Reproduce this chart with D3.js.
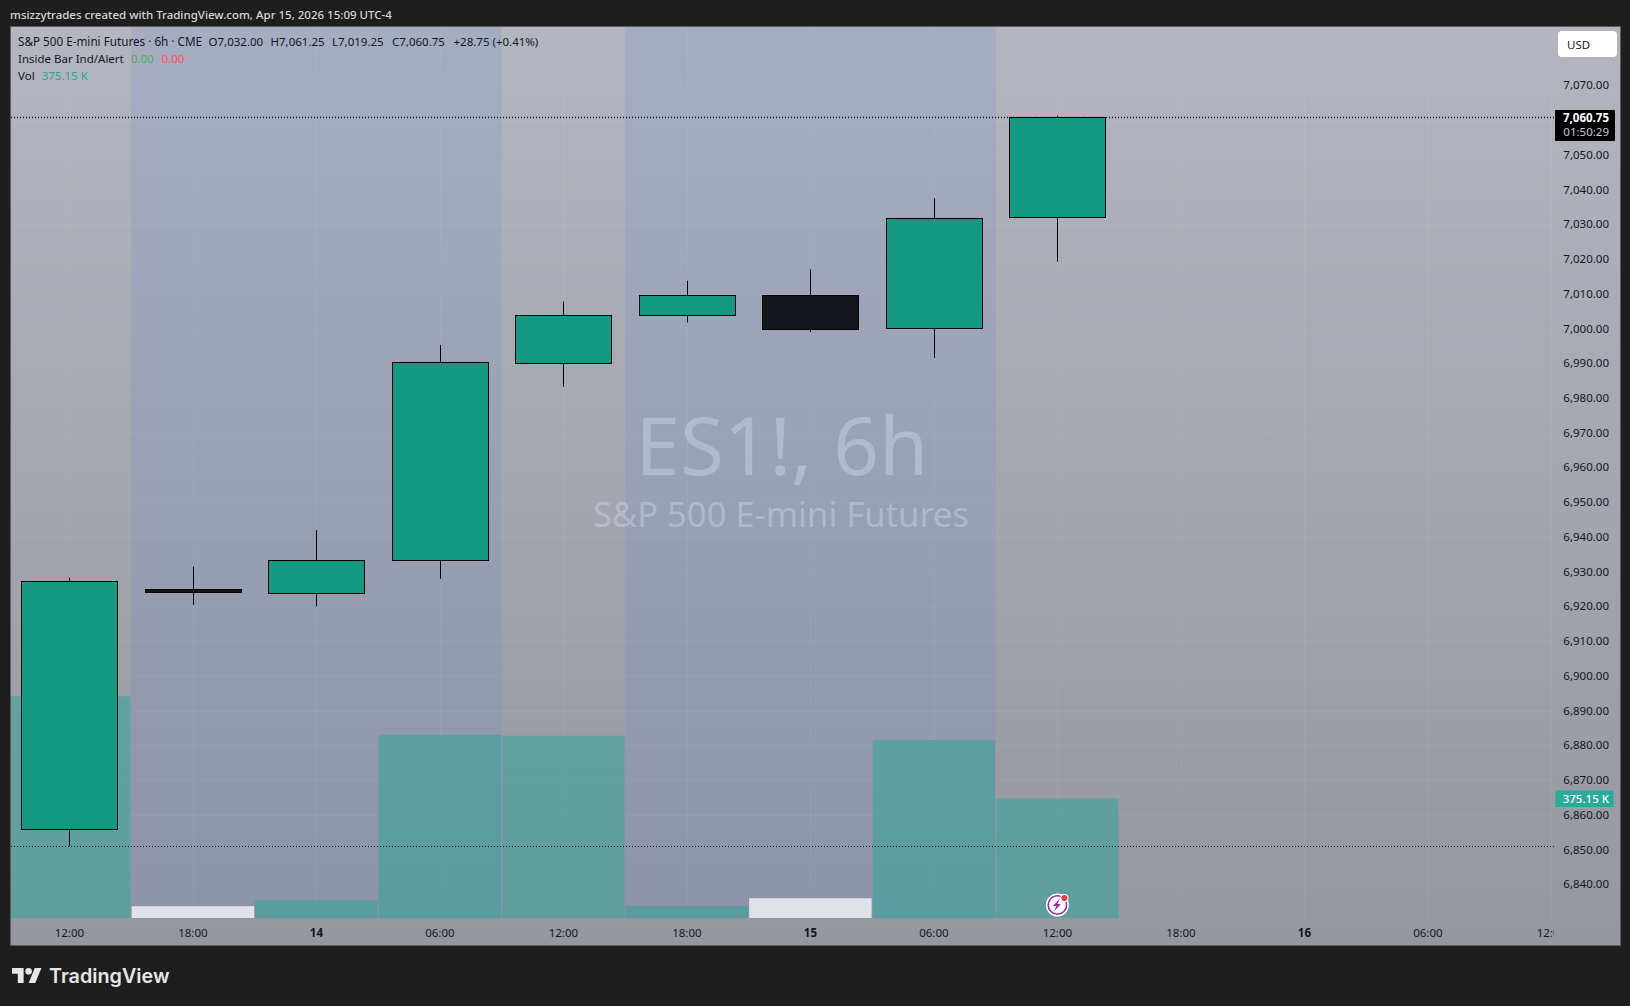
<!DOCTYPE html>
<html>
<head>
<meta charset="utf-8">
<script src="https://cdn.jsdelivr.net/npm/d3@7"></script>
<style>
html, body { margin: 0; padding: 0; background: #1e1e1e; overflow: hidden; }
text { font-family: "Noto Sans", sans-serif; }
</style>
</head>
<body>
<svg id="canvas"></svg>
<script>
let width = 1630;
let height = 1006;

// values
let timeLabels = ['12:00', '18:00', '14', '06:00', '12:00', '18:00', '15', '06:00', '12:00', '18:00', '16', '06:00', '12:00'];
let boldLabels = ['14', '15', '16'];
let opens = [6856, 6925, 6923.75, 6933.25, 6990.25, 7004, 7009.75, 7000, 7032];
let highs = [6928.25, 6931.5, 6942, 6995.25, 7007.75, 7013.75, 7017, 7037.5, 7061.25];
let lows = [6851, 6920.5, 6920, 6928, 6983.25, 7001.75, 6999, 6991.5, 7019.25];
let closes = [6927.25, 6924.25, 6933.25, 6990.25, 7004, 7009.75, 7000, 7031.75, 7060.75];
let volumes = [696, 37, 56, 575, 572, 37, 62, 559, 375.15];
let priceTicks = d3.range(6840, 7071, 10);
let lastPrice = 7060.75;
let levelLine = 6851;
let sessionBands = [[0.5, 3.5], [4.5, 7.5]];

let pane = { left: 11, top: 27, right: 1554, bottom: 918 };
let frameRight = 1620;
let frameBottom = 945;

let xScale = d3.scaleLinear().domain([0, 8]).range([69.4, 1057.4]);
let yScale = d3.scaleLinear().domain([6840, 7070]).range([884.4, 85.3]);
let volScale = d3.scaleLinear().domain([0, 375.15]).range([918, 798.5]);
let step = xScale(1) - xScale(0);

let svg = d3.select('#canvas')
    .attr('width', width)
    .attr('height', height)
    .style('display', 'block');

let defs = svg.append('defs');
let grad = defs.append('linearGradient')
    .attr('id', 'bg')
    .attr('gradientUnits', 'userSpaceOnUse')
    .attr('x1', 0).attr('x2', 0).attr('y1', 27).attr('y2', 945);
grad.append('stop').attr('offset', 0).attr('stop-color', '#b4b6bf');
grad.append('stop').attr('offset', 1).attr('stop-color', '#95979f');

defs.append('clipPath').attr('id', 'paneClip')
    .append('rect')
    .attr('x', pane.left).attr('y', pane.top)
    .attr('width', pane.right - pane.left)
    .attr('height', pane.bottom - pane.top);
defs.append('clipPath').attr('id', 'timeClip')
    .append('rect')
    .attr('x', pane.left).attr('y', pane.bottom)
    .attr('width', pane.right - pane.left)
    .attr('height', frameBottom - pane.bottom);

// frame and background
svg.append('rect')
    .attr('x', pane.left - 0.5).attr('y', pane.top - 0.5)
    .attr('width', frameRight - pane.left + 1).attr('height', frameBottom - pane.top + 1)
    .attr('fill', 'url(#bg)')
    .attr('stroke', '#5c5c5f')
    .attr('stroke-width', 1);

let plot = svg.append('g').attr('clip-path', 'url(#paneClip)');

// session bands
plot.selectAll('.band')
    .data(sessionBands)
    .enter()
    .append('rect')
    .attr('class', 'band')
    .attr('x', d => xScale(d[0]))
    .attr('width', d => xScale(d[1]) - xScale(d[0]))
    .attr('y', pane.top)
    .attr('height', pane.bottom - pane.top)
    .attr('fill', 'rgb(105, 135, 205)')
    .attr('fill-opacity', 0.18);

// grid
plot.selectAll('.hgrid')
    .data(priceTicks)
    .enter()
    .append('line')
    .attr('x1', pane.left).attr('x2', pane.right)
    .attr('y1', d => Math.round(yScale(d)) + 0.5)
    .attr('y2', d => Math.round(yScale(d)) + 0.5)
    .attr('stroke', '#ffffff')
    .attr('stroke-opacity', 0.05);

plot.selectAll('.vgrid')
    .data(timeLabels)
    .enter()
    .append('line')
    .attr('x1', (d, i) => Math.round(xScale(i)) + 0.5)
    .attr('x2', (d, i) => Math.round(xScale(i)) + 0.5)
    .attr('y1', pane.top).attr('y2', pane.bottom)
    .attr('stroke', '#ffffff')
    .attr('stroke-opacity', 0.05);

// volume
plot.selectAll('.vol')
    .data(volumes)
    .enter()
    .append('rect')
    .attr('class', 'vol')
    .attr('x', (d, i) => xScale(i) - step / 2 + 0.5)
    .attr('width', step - 1)
    .attr('y', d => volScale(d))
    .attr('height', d => volScale(0) - volScale(d))
    .attr('fill', (d, i) => closes[i] < opens[i] ? '#e1e2e8' : 'rgba(38, 166, 154, 0.5)');

// watermark
plot.append('text')
    .attr('x', 782).attr('y', 475)
    .attr('text-anchor', 'middle')
    .attr('font-size', 80)
    .attr('fill', '#d4dcec').attr('fill-opacity', 0.42)
    .text('ES1!, 6h');
plot.append('text')
    .attr('x', 781).attr('y', 527)
    .attr('text-anchor', 'middle')
    .attr('font-size', 34.6)
    .attr('fill', '#d4dcec').attr('fill-opacity', 0.42)
    .text('S&P 500 E-mini Futures');

// dotted levels
plot.selectAll('.level')
    .data([lastPrice, levelLine])
    .enter()
    .append('line')
    .attr('x1', pane.left).attr('x2', pane.right)
    .attr('y1', d => Math.round(yScale(d)) + 0.5)
    .attr('y2', d => Math.round(yScale(d)) + 0.5)
    .attr('stroke', '#131722')
    .attr('stroke-width', d => d === lastPrice ? 1.6 : 1)
    .attr('stroke-dasharray', '1 2');

// candles
let bodyWidth = 96;
plot.selectAll('.wick')
    .data(highs)
    .enter()
    .append('line')
    .attr('x1', (d, i) => Math.round(xScale(i)) + 0.5)
    .attr('x2', (d, i) => Math.round(xScale(i)) + 0.5)
    .attr('y1', d => yScale(d))
    .attr('y2', (d, i) => yScale(lows[i]))
    .attr('stroke', '#000');

plot.selectAll('.body')
    .data(opens)
    .enter()
    .append('rect')
    .attr('x', (d, i) => Math.round(xScale(i) - bodyWidth / 2) + 0.5)
    .attr('width', bodyWidth)
    .attr('y', (d, i) => Math.round(yScale(Math.max(d, closes[i]))) + 0.5)
    .attr('height', (d, i) => Math.max(2, Math.round(Math.abs(yScale(d) - yScale(closes[i])))))
    .attr('fill', (d, i) => closes[i] < d ? '#15171c' : '#149a82')
    .attr('stroke', '#000');

// bolt marker on the last bar
let marker = plot.append('g')
    .attr('transform', `translate(${xScale(8)}, 905)`);
marker.append('circle').attr('r', 11.5).attr('fill', '#fff');
marker.append('circle').attr('r', 9.2).attr('fill', 'none').attr('stroke', '#9c27b0').attr('stroke-width', 1.6);
marker.append('path').attr('d', 'M2.5-6.5-4.5 1h3.5l-2.5 5.5 7-7.5H0z').attr('fill', '#9c27b0');
marker.append('circle').attr('cx', 7).attr('cy', -7).attr('r', 4).attr('fill', '#fff');
marker.append('circle').attr('cx', 7).attr('cy', -7).attr('r', 3).attr('fill', '#f23645');

// time axis
svg.append('g')
    .attr('clip-path', 'url(#timeClip)')
    .selectAll('text')
    .data(timeLabels)
    .enter()
    .append('text')
    .attr('x', (d, i) => xScale(i))
    .attr('y', 936.5)
    .attr('text-anchor', 'middle')
    .attr('font-size', 11.5)
    .attr('font-weight', d => boldLabels.includes(d) ? 700 : 400)
    .attr('fill', '#131722')
    .text(d => d);

// price axis
let priceFormat = d3.format(',.2f');
svg.selectAll('.price')
    .data(priceTicks)
    .enter()
    .append('text')
    .attr('x', 1609)
    .attr('y', d => yScale(d) + 4)
    .attr('text-anchor', 'end')
    .attr('font-size', 11.5)
    .attr('fill', '#131722')
    .text(d => priceFormat(d));

// last price tag
svg.append('rect').attr('x', 1555).attr('y', 110).attr('width', 60).attr('height', 31).attr('rx', 1).attr('fill', '#000');
svg.append('text').attr('x', 1609).attr('y', 122).attr('text-anchor', 'end')
    .attr('font-size', 11.5).attr('font-weight', 700).attr('fill', '#fff').text(priceFormat(lastPrice));
svg.append('text').attr('x', 1609).attr('y', 136).attr('text-anchor', 'end')
    .attr('font-size', 11.5).attr('fill', '#c9cad0').text('01:50:29');

// volume tag
svg.append('rect').attr('x', 1555.5).attr('y', 790.5).attr('width', 58).attr('height', 16.5).attr('fill', '#26ab9c');
svg.append('text').attr('x', 1609).attr('y', 803).attr('text-anchor', 'end')
    .attr('font-size', 11.5).attr('font-weight', 500).attr('fill', '#fff').text('375.15 K');

// USD button
svg.append('rect').attr('x', 1558).attr('y', 31).attr('width', 59).attr('height', 26).attr('rx', 4).attr('fill', '#fff');
svg.append('text').attr('x', 1567).attr('y', 48.5).attr('font-size', 11.5).attr('fill', '#131722').text('USD');

// legend
let legend = [
    [18, 46, 'S&P 500 E-mini Futures · 6h · CME', '#131722'],
    [208.5, 46, 'O7,032.00', '#131722'],
    [270.5, 46, 'H7,061.25', '#131722'],
    [332, 46, 'L7,019.25', '#131722'],
    [392, 46, 'C7,060.75', '#131722'],
    [453.5, 46, '+28.75 (+0.41%)', '#131722'],
    [18, 63, 'Inside Bar Ind/Alert', '#131722'],
    [131, 63, '0.00', '#4caf50'],
    [161.5, 63, '0.00', '#ff5252'],
    [18, 80, 'Vol', '#131722'],
    [41.7, 80, '375.15 K', '#26a69a']
];
svg.selectAll('.legend')
    .data(legend)
    .enter()
    .append('text')
    .attr('x', d => d[0])
    .attr('y', d => d[1])
    .attr('font-size', d => d[0] === 18 && d[1] === 46 ? 11.7 : 11.5)
    .attr('fill', d => d[3])
    .text(d => d[2]);

// header and logo
svg.append('text').attr('x', 10).attr('y', 19).attr('font-size', 11.5).attr('font-weight', 500)
    .attr('fill', '#d6d6d6').text('msizzytrades created with TradingView.com, Apr 15, 2026 15:09 UTC-4');

let logo = svg.append('g').attr('transform', 'translate(12, 964.7) scale(0.83)').attr('fill', '#e6e6e6');
logo.append('path').attr('d', 'M14 22H7V11H0V4h14v18zM28 22h-8l7.5-18h8L28 22z');
logo.append('circle').attr('cx', 20).attr('cy', 8).attr('r', 4);
svg.append('text').attr('x', 49).attr('y', 983)
    .style('font-family', 'Inter')
    .attr('font-size', 19.8).attr('font-weight', 600)
    .attr('fill', '#e6e6e6').text('TradingView');
</script>
</body>
</html>
